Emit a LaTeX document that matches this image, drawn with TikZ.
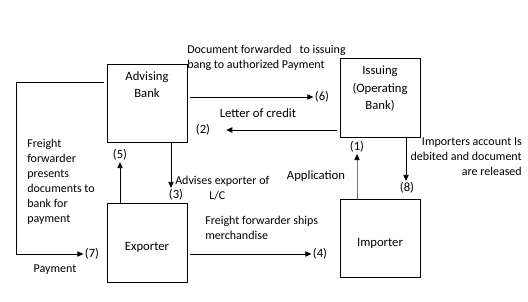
\documentclass[tikz,border=0pt]{standalone}
\usepackage{fontspec}
\setmainfont{Carlito}
\usepackage{tikz}
\usetikzlibrary{arrows.meta, positioning}

\begin{document}
\begin{tikzpicture}[
  x=0.75pt,
  y=-0.75pt,
  font=\fontsize{9}{11.25}\selectfont,
  party/.style={
    draw=black,
    line width=0.6pt,
    minimum width=60pt,
    minimum height=59pt,
    inner sep=0pt
  },
  boxtext/.style={
    align=center,
    font=\fontsize{9.5}{13}\selectfont,
    inner sep=0pt
  },
  step label/.style={
    inner sep=1pt,
    font=\fontsize{9.5}{11}\selectfont
  },
  note/.style={
    align=left,
    inner sep=0pt
  },
  arrow/.style={
    -{Triangle[length=4.5pt,width=4pt]},
    line width=0.6pt,
    draw=black
  }
]
\useasboundingbox (0,0) rectangle (528,301);

% ------------------------------------------------
% Parties
% ------------------------------------------------
\node[party] (advising) at (147,103.5) {};
\node[boxtext, anchor=north] (advisingtext) at (147,71) {Advising\\Bank};

\node[party] (issuing) at (380,98) {};
\node[boxtext, anchor=north] (issuingtext) at (380,66) {Issuing\\(Operating\\Bank)};

\node[party] (exporter) at (147,243) {};
\node[boxtext] (exportertext) at (147,247) {Exporter};

\node[party] (importer) at (380,238.5) {};
\node[boxtext] (importertext) at (380,243) {Importer};

% ------------------------------------------------
% Step numbers
% ------------------------------------------------
\node[step label] (s1) at (357,147) {(1)};
\node[step label] (s2) at (203,130) {(2)};
\node[step label] (s3) at (176,195) {(3)};
\node[step label] (s4) at (320,254) {(4)};
\node[step label] (s5) at (120,155) {(5)};
\node[step label] (s6) at (322,97) {(6)};
\node[step label] (s7) at (92,254) {(7)};
\node[step label] (s8) at (407,188) {(8)};

% ------------------------------------------------
% Texts along the flows
% ------------------------------------------------
\node[note, anchor=north west] (forwardtext) at (187,45)
{Document forwarded\hspace{6pt}to issuing\\bang to authorized Payment};

\node (lctext) at (258,113) {\fontsize{9.5}{11}\selectfont Letter of credit};

\node[note, anchor=north west] (presenttext) at (27,139)
{Freight\\forwarder\\presents\\documents to\\bank for\\payment};

\node (paymenttext) at (55,270) {Payment};

\node[note, anchor=north west] (advisetext) at (175,176)
{Advises exporter of\\\hspace*{25.5pt}L/C};

\node[note, anchor=north west] (shiptext) at (205,216)
{Freight forwarder ships\\merchandise};

\node (apptext) at (316,176) {\fontsize{9.5}{11}\selectfont Application};

\node[note, align=right, anchor=north east] (debittext) at (522,138)
{Importers account Is\\debited and document\\are released};

% ------------------------------------------------
% Flows
% ------------------------------------------------
\draw[arrow, draw=black!55, -{Triangle[length=4.5pt,width=4pt,black]}]
  (importer.north -| s1) -- (s1.south);
\draw[arrow, shorten >=11pt] (issuing.west |- s2) ++(-3,0) -- (s2.east);
\draw[arrow] (advising.south -| 171,0) -- (s3.north -| 171,0);
\draw[arrow, shorten <=2pt] (exporter.east |- s4) -- (s4.west);
\draw[arrow] (exporter.north -| s5) -- (s5.south);
\draw[arrow, shorten <=2pt] (advising.east |- s6) -- (s6.west);
\draw[arrow, shorten <=2pt]
  (advising.west |- 0,82) -- (16,82) |- (s7.west);
\draw[arrow] (issuing.south -| 406,0) -- (s8.north -| 406,0);

\end{tikzpicture}
\end{document}
